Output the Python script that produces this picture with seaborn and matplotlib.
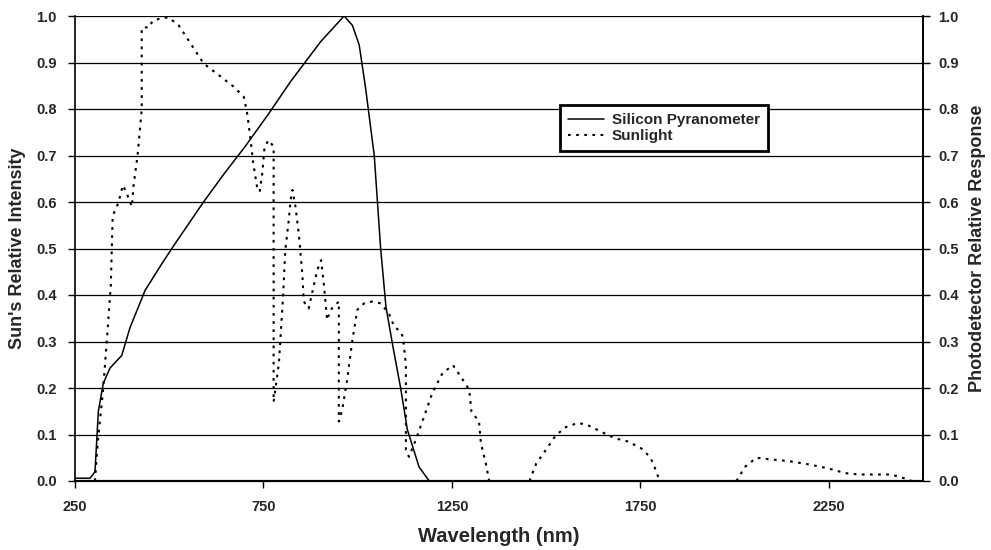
import matplotlib
matplotlib.use("Agg")
import matplotlib.pyplot as plt
import seaborn as sns
import pandas as pd

# ---- data ----
pyr_wl = [250, 290, 303, 312, 325, 343, 374, 396, 436, 481, 511, 591, 645, 702,
          764, 822, 862, 902, 964, 986, 1004, 1021, 1044, 1061, 1075, 1092, 1114,
          1132, 1163, 1190]
pyr_val = [0.006, 0.006, 0.02, 0.15, 0.21, 0.243, 0.27, 0.33, 0.41, 0.468, 0.505,
           0.60, 0.66, 0.72, 0.79, 0.859, 0.902, 0.945, 1.0, 0.98, 0.938, 0.845,
           0.70, 0.50, 0.375, 0.296, 0.20, 0.11, 0.03, 0.0]

# sunlight spectrum, three bands separated by zero-intensity absorption gaps
sun_wl_band1 = [303, 310, 325, 336, 345, 350, 365, 377, 387, 401, 405, 416, 423, 427,
                427, 450, 454, 476, 498, 525, 551, 591, 636, 671, 698, 707, 716, 723,
                733, 740, 747, 753, 764, 777, 777, 791, 802, 808, 817, 822, 827, 835,
                844, 853, 857, 870, 879, 893, 903, 910, 919, 928, 950, 950, 959, 972,
                986, 999, 1017, 1039, 1061, 1083, 1097, 1114, 1120, 1128, 1128, 1136,
                1154, 1176, 1198, 1225, 1253, 1274, 1296, 1302, 1322, 1327, 1340, 1349]
sun_val_band1 = [0.0, 0.08, 0.20, 0.32, 0.42, 0.57, 0.598, 0.636, 0.619, 0.59, 0.633,
                 0.70, 0.762, 0.80, 0.974, 0.977, 0.988, 0.995, 0.997, 0.98, 0.948,
                 0.898, 0.87, 0.848, 0.826, 0.79, 0.733, 0.683, 0.633, 0.622, 0.662,
                 0.719, 0.733, 0.719, 0.17, 0.253, 0.396, 0.497, 0.56, 0.604, 0.626,
                 0.59, 0.53, 0.447, 0.386, 0.371, 0.404, 0.454, 0.475, 0.425, 0.346,
                 0.368, 0.386, 0.128, 0.153, 0.217, 0.303, 0.368, 0.382, 0.386, 0.382,
                 0.36, 0.332, 0.321, 0.31, 0.25, 0.067, 0.052, 0.088, 0.138, 0.189,
                 0.232, 0.249, 0.224, 0.196, 0.149, 0.128, 0.081, 0.038, 0.0]
sun_wl_band2 = [1456, 1474, 1496, 1523, 1549, 1585, 1611, 1646, 1682, 1717, 1753, 1775,
                1784, 1797, 1806]
sun_val_band2 = [0.0, 0.038, 0.063, 0.095, 0.115, 0.125, 0.12, 0.106, 0.092, 0.085,
                 0.07, 0.052, 0.038, 0.01, 0.0]
sun_wl_band3 = [2005, 2027, 2058, 2089, 2142, 2195, 2249, 2293, 2329, 2409, 2435, 2470]
sun_val_band3 = [0.0, 0.03, 0.05, 0.047, 0.043, 0.036, 0.027, 0.017, 0.014, 0.014,
                 0.01, 0.0]

x_ticks = [250, 750, 1250, 1750, 2250]
y_ticks = [0.0, 0.1, 0.2, 0.3, 0.4, 0.5, 0.6, 0.7, 0.8, 0.9, 1.0]
x_label = "Wavelength (nm)"
y_label_left = "Sun's Relative Intensity"
y_label_right = "Photodetector Relative Response"
series_names = ["Silicon Pyranometer", "Sunlight"]

# ---- style ----
sns.set_style("white")
plt.rcParams['font.family'] = ['Liberation Sans', 'DejaVu Sans']
plt.rcParams['font.weight'] = 'bold'

fig = plt.figure(figsize=(9.91, 5.5), dpi=100)
ax = fig.add_axes([75 / 991, 69 / 550, 848 / 991, 465 / 550])

pyr = pd.DataFrame({"wl": pyr_wl, "val": pyr_val})
bands = [(sun_wl_band1, sun_val_band1), (sun_wl_band2, sun_val_band2),
         (sun_wl_band3, sun_val_band3)]
sun = pd.concat([pd.DataFrame({"wl": w, "val": v, "band": i})
                 for i, (w, v) in enumerate(bands)], ignore_index=True)

sns.lineplot(data=pyr, x="wl", y="val", ax=ax, color="black", lw=1.1,
             sort=False, estimator=None, label=series_names[0], zorder=3)
sns.lineplot(data=sun, x="wl", y="val", units="band", ax=ax, color="black", lw=1.5,
             linestyle=(0, (1.3, 2.6)), sort=False, estimator=None,
             label=series_names[1], zorder=3)

ax.set_xlim(250, 2500)
ax.set_ylim(0, 1.0)
ax.set_xticks(x_ticks)
ax.set_xticklabels([str(t) for t in x_ticks])
ax.set_yticks(y_ticks)
ax.set_yticklabels([f"{t:.1f}" for t in y_ticks])

ax.set_axisbelow(True)
ax.yaxis.grid(True, color="black", lw=0.9)
ax.xaxis.grid(False)

ax.spines["top"].set_visible(False)
for s in ["left", "bottom", "right"]:
    ax.spines[s].set_color("black")
    ax.spines[s].set_linewidth(1.2)
ax.spines["bottom"].set_linewidth(1.6)
ax.spines["bottom"].set_zorder(6)

ax.tick_params(axis="both", direction="out", length=5, width=1, color="black",
               labelsize=10.5, bottom=True, left=True)
ax.tick_params(axis="x", pad=9)
ax.tick_params(axis="y", pad=8)

ax.set_xlabel(x_label, fontsize=14.5, fontweight="bold")
ax.xaxis.set_label_coords(0.5, (481 - 537) / 465)
ax.xaxis.label.set_va("center")
ax.set_ylabel(y_label_left, fontsize=13, fontweight="bold")
ax.yaxis.set_label_coords((18 - 75) / 848, 0.5)
ax.yaxis.label.set_va("center")

ax2 = ax.twinx()
ax2.set_ylim(0, 1.0)
ax2.set_yticks(y_ticks)
ax2.set_yticklabels([f"{t:.1f}" for t in y_ticks])
ax2.tick_params(axis="y", direction="out", length=5, width=1, color="black",
                labelsize=10.5, pad=6, right=True)
for s in ["top", "left", "bottom"]:
    ax2.spines[s].set_visible(False)
ax2.spines["right"].set_color("black")
ax2.spines["right"].set_linewidth(1.2)
ax2.set_ylabel(y_label_right, fontsize=13, fontweight="bold", rotation=90)
ax2.yaxis.set_label_coords((977 - 75) / 848, 0.5)
ax2.yaxis.label.set_va("center")
ax2.grid(False)

handles, labels = ax.get_legend_handles_labels()
seen = {}
for h, l in zip(handles, labels):
    if l not in seen:
        seen[l] = h
leg = ax.legend([seen[n] for n in series_names], series_names,
                loc="upper left", bbox_to_anchor=((560 - 75) / 848, (481 - 105) / 465),
                borderaxespad=0, frameon=True, fancybox=False, shadow=False,
                prop={"size": 11, "weight": "bold"}, handlelength=2.3,
                handletextpad=0.55, labelspacing=0.1, borderpad=0.55)
leg.get_frame().set_edgecolor("black")
leg.get_frame().set_linewidth(2)
leg.get_frame().set_facecolor("white")
leg.get_frame().set_alpha(1)
leg.set_zorder(10)
ax.set_zorder(ax2.get_zorder() + 1)
ax.patch.set_visible(False)

fig.savefig("out.png", dpi=100)
